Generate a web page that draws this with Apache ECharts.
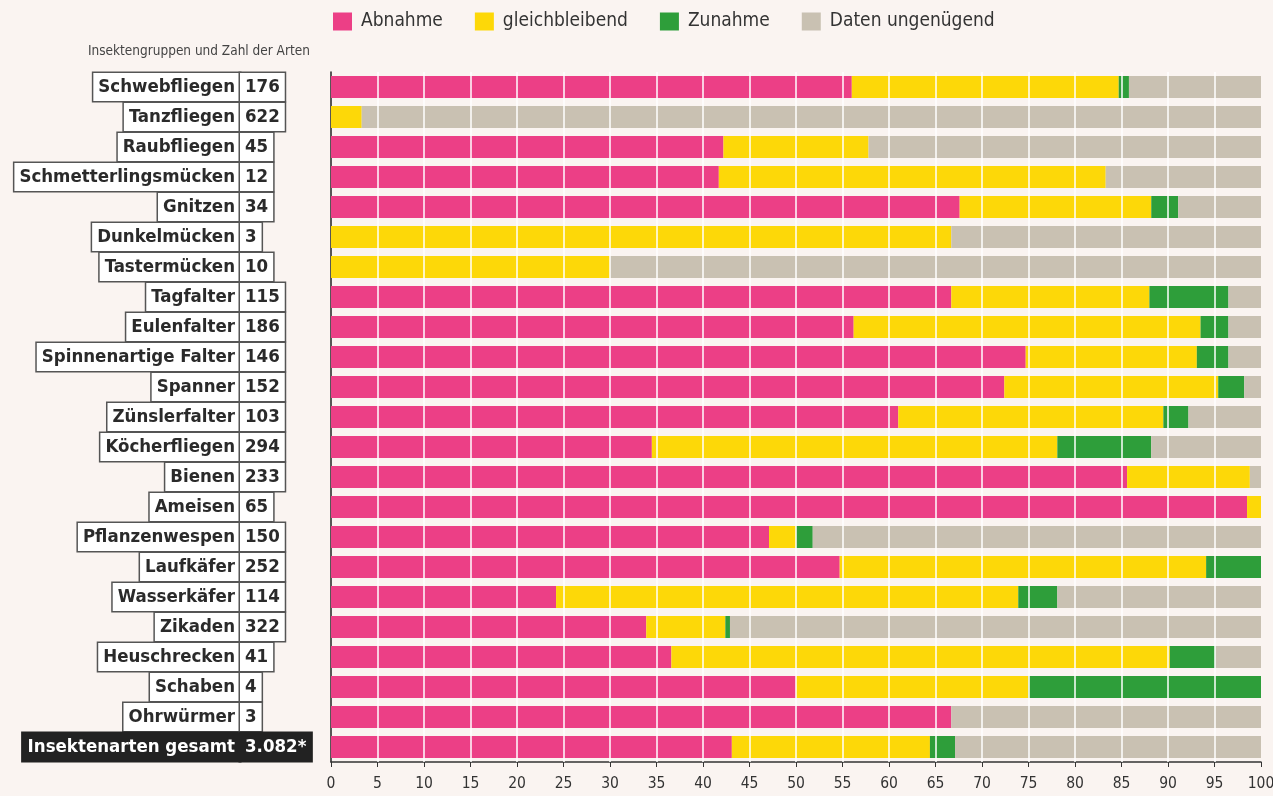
<!DOCTYPE html>
<html>
<head>
<meta charset="utf-8">
<script src="https://cdn.jsdelivr.net/npm/echarts@6/dist/echarts.min.js"></script>
<style>
html,body{margin:0;padding:0;background:#faf4f1;}
#c{width:1273px;height:796px;}
</style>
</head>
<body>
<div id="c"></div>
<script>
const categories = ["Schwebfliegen","Tanzfliegen","Raubfliegen","Schmetterlingsmücken","Gnitzen","Dunkelmücken","Tastermücken","Tagfalter","Eulenfalter","Spinnenartige Falter","Spanner","Zünslerfalter","Köcherfliegen","Bienen","Ameisen","Pflanzenwespen","Laufkäfer","Wasserkäfer","Zikaden","Heuschrecken","Schaben","Ohrwürmer","Insektenarten gesamt"];
const counts = ["176","622","45","12","34","3","10","115","186","146","152","103","294","233","65","150","252","114","322","41","4","3","3.082*"];
const abnahme =        [56.0, 0,    42.2, 41.7, 67.6, 0,    0,  66.7, 56.2, 74.7, 72.4, 61.0, 34.5, 85.6, 98.5, 47.1, 54.7, 24.2, 33.9, 36.6, 50, 66.7, 43.1];
const gleichbleibend = [28.7, 3.3,  15.6, 41.6, 20.6, 66.7, 30, 21.3, 37.3, 18.4, 23.0, 28.5, 43.6, 13.2, 1.5,  2.9,  39.4, 49.7, 8.5,  53.6, 25, 0,    21.3];
const zunahme =        [1.1,  0,    0,    0,    2.9,  0,    0,  8.5,  3.0,  3.4,  2.8,  2.7,  10.1, 0,    0,    1.8,  5.9,  4.2,  0.5,  4.9,  25, 0,    2.7];
const ungenuegend =    [14.2, 96.7, 42.2, 16.7, 8.9,  33.3, 70, 3.5,  3.5,  3.5,  1.8,  7.8,  11.8, 1.2,  0,    48.2, 0,    21.9, 57.1, 4.9,  0,  33.3, 32.9];
const seriesNames = ["Abnahme","gleichbleibend","Zunahme","Daten ungenügend"];
const colors = ["#ec3f86","#fdd808","#2e9e3a","#c9c1b2"];
const gridTicks = [5,10,15,20,25,30,35,40,45,50,55,60,65,70,75,80,85,90,95];

const FONT = "'Liberation Sans Narrow','DejaVu Sans Condensed',sans-serif";
const chart = echarts.init(document.getElementById('c'));
const lastIdx = categories.length - 1;
const boxBase = {fontFamily: FONT, fontWeight: 'bold', fontSize: 18.5, height: 22, lineHeight: 22, borderWidth: 1.5, padding: [3,5,3,5]};
const dataSets = [abnahme, gleichbleibend, zunahme, ungenuegend];

const series = seriesNames.map((n, i) => {
  const s = {
    name: n, type: 'bar', stack: 'total', barWidth: 22,
    itemStyle: {color: colors[i]},
    data: dataSets[i], silent: true
  };
  if (i === 3) {
    s.markLine = {
      silent: true, symbol: 'none', z: 10,
      label: {show: false},
      lineStyle: {color: '#ffffff', width: 1.5, type: 'solid'},
      data: gridTicks.map(v => ({xAxis: v}))
    };
  }
  return s;
});

const labelCommon = {
  interval: 0, hideOverlap: false, showMinLabel: true, showMaxLabel: true,
  formatter: (v, i) => i === lastIdx ? '{t|' + v + '}' : '{b|' + v + '}',
  rich: {
    b: Object.assign({}, boxBase, {color: '#2a2a2a', backgroundColor: '#ffffff', borderColor: '#555'}),
    t: Object.assign({}, boxBase, {color: '#ffffff', backgroundColor: '#222222', borderColor: '#222222'})
  }
};

chart.setOption({
  backgroundColor: '#faf4f1',
  animation: false,
  legend: {
    top: 7, left: 328, icon: 'rect', itemWidth: 19, itemHeight: 18, itemGap: 32,
    textStyle: {fontFamily: FONT, fontSize: 19, color: '#333', padding: [0,0,0,4]},
    data: seriesNames
  },
  graphic: [{
    type: 'text', left: 88, top: 44,
    style: {text: 'Insektengruppen und Zahl der Arten', fontFamily: FONT, fontSize: 13.5, fill: '#444'}
  }],
  grid: {left: 331, right: 12, top: 72, bottom: 34, outerBoundsMode: 'none', containLabel: false},
  xAxis: {
    type: 'value', min: 0, max: 100, interval: 5,
    axisLine: {show: true, lineStyle: {color: '#333', width: 1.5}},
    axisTick: {show: true, length: 5, lineStyle: {color: '#333'}},
    axisLabel: {fontFamily: FONT, fontSize: 15.5, color: '#333', margin: 14, showMinLabel: true, showMaxLabel: true},
    splitLine: {show: false}
  },
  yAxis: [{
    type: 'category', inverse: true, data: categories,
    axisLine: {show: true, lineStyle: {color: '#222', width: 1.5}},
    axisTick: {show: false},
    axisLabel: Object.assign({margin: 91, align: 'right'}, labelCommon)
  }, {
    type: 'category', inverse: true, data: counts, position: 'left', offset: 0,
    axisLine: {show: false}, axisTick: {show: false},
    axisLabel: Object.assign({margin: 91, align: 'left'}, labelCommon)
  }],
  series: series
});
</script>
</body>
</html>
